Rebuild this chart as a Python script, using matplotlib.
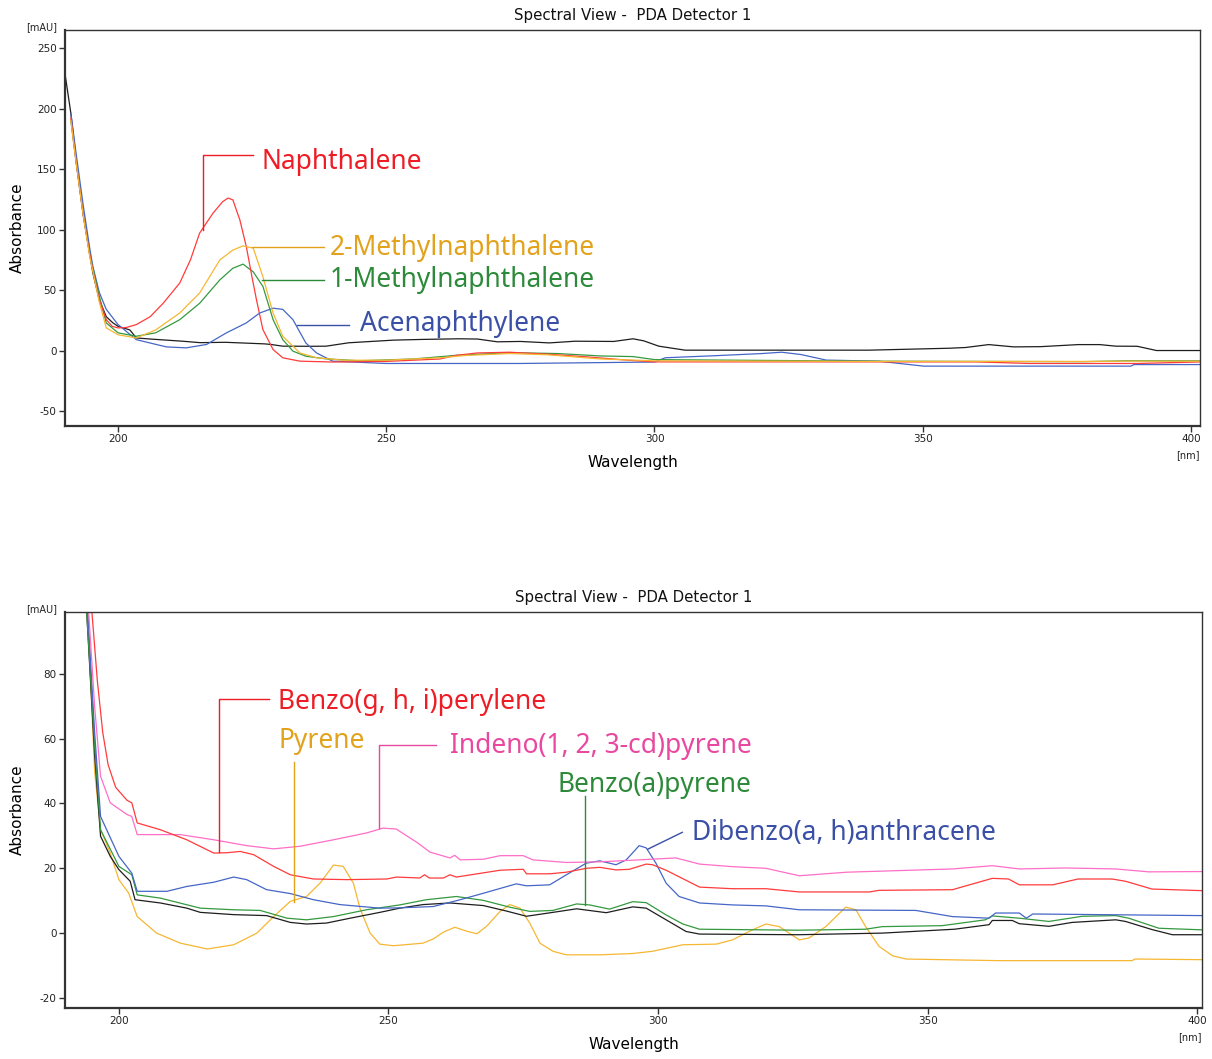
import matplotlib.pyplot as plt
import numpy as np

plt.rcParams['axes.unicode_minus'] = False

# ---- top panel: naphthalene type compounds ----
black_top_wl = [190, 191.2, 192.2, 193.5, 194.7, 195.3, 196.5, 197.8, 199, 200, 202.2, 203.4, 206, 212, 215.3, 220,
                227.3, 228.5, 230.7, 236, 238.8, 243, 251.4, 257, 263.5, 267, 270.7, 275, 280.4, 285.2, 292.4, 296,
                298, 300.8, 305.7, 320, 340, 355, 358, 362.3, 367, 372, 379, 383, 386, 390, 393.6, 402]
black_top = [232, 196, 157, 113, 80, 64, 42, 28, 23, 20, 17, 10.4, 9.5, 7.7, 6.5, 6.8,
             5.5, 5, 3.6, 3.5, 3.6, 6.4, 8.6, 9.2, 9.7, 9.5, 7.2, 7.5, 6.3, 7.7, 7.5, 9.7,
             8, 3.6, 0.3, 0.3, 0.3, 1.9, 2.5, 4.9, 3, 3.2, 4.9, 4.9, 3.6, 3.5, 0, 0]

naph_wl = [191.2, 192.2, 193.5, 194.7, 195.5, 196.5, 197.8, 198.9, 200, 201.5, 203.4, 206, 208.4, 211.5, 213.5,
           215.2, 217.7, 219.5, 220.5, 221.4, 222.7, 223.9, 225, 225.8, 227, 228.9, 230.7, 233.9, 240, 250, 260,
           263, 267, 273, 280, 287.6, 295, 300, 320, 340, 360, 370, 390, 402]
naph = [192, 155, 112, 80, 62, 42, 25.5, 20, 18.7, 19, 21.4, 28, 39, 55.8, 75,
        97, 113.5, 123, 126, 124.5, 108, 86, 60, 42, 17.3, 0.8, -6, -8.8, -9.5, -9, -7,
        -4, -2, -1.4, -3, -5.3, -8, -9.4, -9.4, -9.4, -9.4, -10.7, -10.7, -9.4]

mnaph2_wl = [191.2, 192.2, 193.5, 194.7, 196.5, 197.8, 200, 203.4, 207, 211.5, 215.2, 219, 221.4, 223.3, 225.2,
             227, 228.9, 230.7, 233.9, 237, 242, 250, 260, 265, 273, 280, 290, 300, 340, 380, 388, 402]
mnaph2 = [190, 155, 112, 78, 40, 18.7, 13, 10.4, 17, 31, 47.5, 75, 83, 86.5, 84.6,
          61, 31, 11.8, -2, -6, -8, -8, -6, -4, -2.5, -3.5, -7, -8.5, -9, -9, -8.8, -8.8]

mnaph1_wl = [191.2, 192.2, 193.5, 194.7, 196.5, 197.8, 200, 203.4, 207, 211.5, 215.2, 219, 221.4, 223.3, 225.2,
             227, 228.9, 230.7, 232.6, 235, 238.8, 245, 255, 263, 273, 282, 290, 296, 300, 340, 380, 388, 402]
mnaph1 = [190, 155, 112, 80, 45, 22.8, 14.6, 11.8, 14.6, 25.5, 39, 58.5, 68, 71.4, 65,
          53, 25.5, 9, -0.5, -4.7, -6.9, -8.5, -7, -4, -1.8, -2.5, -4.5, -5, -7.5, -8.8, -9.2, -8.5, -8.5]

acen_wl = [191.2, 192.2, 193.5, 194.7, 195.3, 196.5, 197.8, 200, 203.4, 205.9, 209, 212.7, 216.5, 220.2, 223.9,
           226.4, 228.9, 230.7, 232.6, 235, 237, 240, 250, 275, 300, 302, 311.7, 320, 323.7, 327.3, 332, 341.8,
           350.2, 388.8, 389.4, 402]
acen = [196, 162, 120, 85, 69.5, 48, 34, 21.4, 9, 6.3, 3, 2.2, 5, 14.6, 22.8,
        31, 35, 34, 25.5, 6.3, -2, -8.8, -10.7, -10.7, -9.5, -6, -4.2, -2.5, -1.4, -3.3, -7.9, -8.8,
        -12.9, -12.9, -11.6, -11.6]

# ---- bottom panel: larger PAHs ----
black_bot_wl = [192, 194, 195.5, 196.6, 198.4, 200, 202.1, 203, 207.7, 212.6, 215.1, 221.3, 227.4, 231.8, 234.8,
                238.5, 242.9, 248.4, 252.1, 256.4, 261.4, 267.6, 271.9, 275.6, 280.5, 284.9, 290.4, 295.3, 297.8,
                301.5, 305.2, 307.7, 326, 341.6, 355, 361.4, 362, 365.7, 367, 372.5, 376.8, 384.9, 386.7, 391.6,
                395.4, 401]
black_bot = [160, 100, 55, 29.9, 23.7, 19.6, 16, 10.3, 9.3, 7.7, 6.4, 5.7, 5.4, 3.3, 2.8,
             3.1, 4.6, 6.4, 7.7, 8.8, 9.3, 8.5, 6.8, 5.2, 6.4, 7.5, 6.3, 8.1, 7.7,
             4.1, 0.5, -0.3, -0.5, 0, 1.2, 2.6, 3.9, 3.9, 2.9, 2.1, 3.3, 4.1, 3.6, 1.1,
             -0.5, -0.5]

bap_wl = [192, 194, 195.5, 196.6, 200, 202.4, 203.4, 207.7, 215.1, 221.3, 226.2, 231.2, 234.8, 239.8, 245.9,
          252.1, 257, 262.6, 267.6, 272.5, 276.2, 280.5, 284.9, 287.3, 291, 295.3, 297.8, 301.5, 304.6, 307.7,
          326, 338.5, 341.6, 352.7, 360.7, 362, 367, 372.5, 378.7, 384.9, 387.3, 392.9, 401]
bap = [160, 100, 58, 31.9, 20.6, 18, 11.8, 10.8, 7.7, 7.2, 7, 4.6, 4.1, 5.1, 7.2,
       8.7, 10.3, 11.3, 10.1, 8, 6.7, 7, 9, 8.7, 7.4, 9.7, 9.4, 5.6, 2.8, 1.2,
       0.9, 1.2, 2, 2.3, 4.1, 5.3, 4.6, 3.6, 5.2, 5.4, 4.6, 1.5, 1]

dbahA_wl = [192, 194.2, 195.5, 196.6, 200, 202.4, 203.4, 208.9, 212.6, 217.6, 221.3, 223.7, 227.4, 231.8, 236.1,
            241, 248.4, 252.1, 258.3, 263.3, 267.6, 273.7, 275.6, 279.9, 283, 286.7, 289.2, 292.2, 294.1, 296.5,
            297.8, 299.6, 301.5, 303.9, 307.7, 313.8, 320, 326.2, 347.8, 354.6, 361.4, 362.6, 367, 368.3, 369.5,
            401]
dbahA = [165, 100, 62, 36, 23.7, 18.5, 12.9, 12.9, 14.4, 15.7, 17.3, 16.5, 13.4, 12.2, 10.3,
         8.8, 7.7, 7.8, 8.2, 10.3, 12.3, 15.2, 14.6, 14.9, 18, 21.6, 22.3, 21.1, 22.6, 27,
         26.3, 21.6, 15.4, 11.3, 9.3, 8.7, 8.4, 7.2, 7, 5.1, 4.6, 6.2, 6.2, 4.6, 5.9,
         5.4]

indeno_wl = [193, 194.4, 195.5, 196.6, 198.4, 201.5, 202.4, 203.4, 211.4, 217.6, 223.7, 228.7, 233.6, 239.8, 245.9,
             249, 251.5, 252.1, 255.2, 257.7, 261.4, 262.3, 263.3, 267.6, 270.7, 275, 276.8, 283, 289.2, 295.3,
             303.3, 307.7, 313.8, 320, 326.2, 335, 354.6, 362, 367, 375.6, 384.9, 391, 401]
indeno = [140, 99, 70, 48.4, 40.2, 36.6, 36, 30.4, 30.4, 28.8, 27, 26, 26.8, 28.8, 30.9,
          32.4, 32.1, 31.4, 28.1, 25, 23.2, 24, 22.6, 22.8, 23.9, 23.9, 22.6, 21.8, 22, 22.5,
          23.2, 21.3, 20.5, 20, 17.7, 18.8, 19.8, 20.8, 19.8, 20.1, 19.8, 18.9, 19]

bghi_wl = [193.5, 195, 196, 197, 198, 199.4, 201.5, 202.4, 203.4, 207.7, 212.6, 217.6, 220, 222.5, 225,
           228.7, 231.8, 236.1, 242.3, 249.7, 251.5, 255.8, 256.7, 257.6, 260.2, 261.4, 262.6, 270.7, 275, 275.6,
           279.9, 283, 286.7, 289.2, 292.2, 294.7, 297.8, 299, 301.5, 305.2, 307.7, 313.8, 320, 326.2, 339.2,
           341, 354.6, 362, 365, 367, 373.2, 377.9, 384.2, 386.7, 391.6, 401]
bghi = [140, 99, 78, 62, 52, 45, 41, 40.2, 34, 31.9, 28.8, 24.7, 24.8, 25.2, 24.2,
        20.6, 18, 16.7, 16.5, 16.7, 17.3, 17, 18, 17, 17, 18, 17.3, 19.4, 19.7, 18.3,
        18.3, 18.8, 20, 20.3, 19.5, 19.7, 21.3, 21.1, 19.4, 16.3, 14.2, 13.7, 13.7, 12.7, 12.7,
        13.2, 13.4, 16.9, 16.7, 14.9, 14.9, 16.7, 16.7, 16, 13.6, 13.1]

pyrene_wl = [192, 194.2, 195.5, 196.6, 198.4, 200, 201.8, 203.4, 207, 211.4, 216.4, 221.3, 225.6, 228.7, 231.8,
             234.8, 237.3, 239.8, 241.6, 243.5, 244.7, 246.6, 248.4, 250.9, 256.4, 258.3, 260.2, 262.3, 264.5,
             266.4, 268.2, 270.7, 272.5, 274.4, 276.2, 278.1, 280.5, 283, 289.2, 295.3, 299, 304.6, 310.8, 313.8,
             317.5, 320, 322.5, 324.3, 326.2, 328, 331.1, 334.8, 336.7, 338.5, 341, 343.5, 346, 363.2, 387.9,
             388.5, 401]
pyrene = [165, 99, 50, 32, 24.7, 16.5, 12.4, 5.1, 0, -3.1, -4.9, -3.6, 0, 5.1, 9.8,
          11.3, 15.4, 21, 20.6, 15.4, 7.7, 0, -3.4, -3.9, -3.1, -1.8, 0.3, 1.8, 0.6,
          -0.2, 2.1, 6.7, 8.8, 7.7, 3.1, -3.1, -5.6, -6.7, -6.7, -6.3, -5.6, -3.6, -3.4, -2.1,
          1, 2.8, 2, 0, -2.1, -1.5, 2, 8, 7.2, 2, -4.1, -7, -8, -8.5, -8.5,
          -8, -8.2]

LINE = {'red': '#ff3b3b', 'orange': '#f6b733', 'green': '#34993f', 'blue': '#4566c6',
        'black': '#1e1e1e', 'pink': '#ff6ec7'}
TEXT = {'red': '#ee1d25', 'orange': '#e2a21b', 'green': '#2c8a3a', 'blue': '#3a4fa6', 'pink': '#e8489f'}

top_series = [(black_top_wl, black_top, 'black'), (acen_wl, acen, 'blue'), (mnaph1_wl, mnaph1, 'green'),
              (naph_wl, naph, 'red'), (mnaph2_wl, mnaph2, 'orange')]
bot_series = [(pyrene_wl, pyrene, 'orange'), (black_bot_wl, black_bot, 'black'), (bap_wl, bap, 'green'),
              (dbahA_wl, dbahA, 'blue'), (indeno_wl, indeno, 'pink'), (bghi_wl, bghi, 'red')]

# label text, colour, text anchor (left, baseline), leader line points
top_labels = [
    ('Naphthalene', 'red', (226.8, 150.2), [(215.8, 100), (215.8, 161.2), (225.1, 161.2)]),
    ('2-Methylnaphthalene', 'orange', (239.5, 79.3), [(224.9, 85.4), (238.3, 85.4)]),
    ('1-Methylnaphthalene', 'green', (239.5, 52.3), [(226.9, 58.1), (238.3, 58.1)]),
    ('Acenaphthylene', 'blue', (245.1, 16.0), [(233.4, 20.7), (243.1, 20.7)]),
]
bot_labels = [
    ('Benzo(g, h, i)perylene', 'red', (229.6, 69.3), [(218.6, 25.1), (218.6, 72.3), (227.9, 72.3)]),
    ('Pyrene', 'orange', (229.6, 57.1), [(232.4, 9.7), (232.4, 52.9)]),
    ('Indeno(1, 2, 3-cd)pyrene', 'pink', (261.4, 55.6), [(248.3, 32.5), (248.3, 57.9), (258.8, 57.9)]),
    ('Benzo(a)pyrene', 'green', (281.3, 43.7), [(286.5, 8.7), (286.5, 42.2)]),
    ('Dibenzo(a, h)anthracene', 'blue', (306.3, 28.8), [(298.1, 25.9), (304.5, 31.1)]),
]

fig = plt.figure(figsize=(12.12, 10.59), dpi=100)
ax_top = fig.add_axes([0.0536, 0.5977, 0.9365, 0.3740])
ax_bot = fig.add_axes([0.0536, 0.0482, 0.9382, 0.3739])


def style_axes(ax, xlim, ylim, yticks):
    ax.set_xlim(*xlim)
    ax.set_ylim(*ylim)
    ax.set_xticks(np.arange(200, 401, 50))
    ax.set_yticks(yticks)
    for side in ['left', 'bottom']:
        ax.spines[side].set_linewidth(1.6)
        ax.spines[side].set_color('#333333')
    for side in ['top', 'right']:
        ax.spines[side].set_linewidth(1.0)
        ax.spines[side].set_color('#333333')
    ax.tick_params(direction='out', length=4, width=1, colors='#333333', labelsize=7.5, pad=2)
    for lab in ax.get_xticklabels() + ax.get_yticklabels():
        lab.set_color('#222222')
    ax.set_title('Spectral View -  PDA Detector 1', fontsize=10.8, pad=7, color='#111111')
    ax.set_ylabel('Absorbance', fontsize=11)
    ax.yaxis.set_label_coords(-0.035, 0.5)
    ax.set_xlabel('Wavelength', fontsize=11)
    ax.xaxis.set_label_coords(0.5, -0.074)
    ax.text(-0.007, 1.008, '[mAU]', transform=ax.transAxes, ha='right', va='center', fontsize=7, color='#222222')
    ax.text(1.0, -0.073, '[nm]', transform=ax.transAxes, ha='right', va='center', fontsize=7, color='#222222')


def draw(ax, series, labels):
    for wl, val, c in series:
        ax.plot(wl, val, color=LINE[c], lw=0.9)
    for txt, c, (tx, ty), pts in labels:
        xs, ys = zip(*pts)
        ax.plot(xs, ys, color=TEXT[c], lw=1.0)
        ax.text(tx, ty, txt, color=TEXT[c], fontsize=19, family='Noto Sans', ha='left', va='baseline')


style_axes(ax_top, (190.1, 401.7), (-62.4, 264.9), np.arange(-50, 251, 50))
draw(ax_top, top_series, top_labels)
style_axes(ax_bot, (190.0, 400.9), (-23.1, 99.1), np.arange(-20, 81, 20))
draw(ax_bot, bot_series, bot_labels)

fig.savefig('out.png', dpi=100)
